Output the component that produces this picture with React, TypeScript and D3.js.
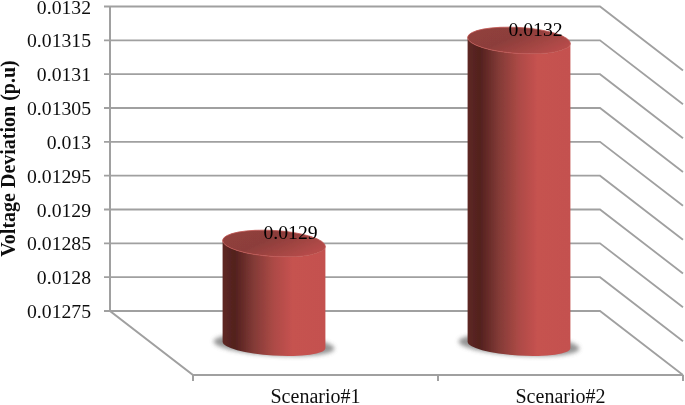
import React from "react";
import * as d3 from "d3";

const categories = ["Scenario#1", "Scenario#2"];
const seriesValues = [0.0129, 0.0132];
const valueLabels = ["0.0129", "0.0132"];
const tickValues = [0.01275, 0.0128, 0.01285, 0.0129, 0.01295, 0.013, 0.01305, 0.0131, 0.01315, 0.0132];
const tickLabels = ["0.01275", "0.0128", "0.01285", "0.0129", "0.01295", "0.013", "0.01305", "0.0131", "0.01315", "0.0132"];

const W = 685, H = 405;
const wallLeft = 110, wallRight = 600, wallBottom = 311, wallTop = 6.5;
const depthX = 83, depthY = 64;
const barRx = 51.5, capRy = 13, baseRy = 10.5, tilt = 3.5;
const tickFont = 19.7;
const grid = "#a0a0a0";
const serif = "'Liberation Serif', serif";

const y = d3.scaleLinear().domain([0.01275, 0.0132]).range([wallBottom, wallTop]);
const x = d3.scaleBand().domain(categories).range([wallLeft, wallRight]).padding(0);
const line = d3.line();

export default function App() {
  const bw = x.bandwidth();
  const ang = (tilt * Math.PI) / 180;
  const dxEnd = barRx * Math.cos(ang), dyEnd = barRx * Math.sin(ang);
  const floorY = wallBottom + depthY / 2 + 2;
  return (
    <svg width={W} height={H} style={{ position: "absolute", left: 0, top: 0, background: "#fff" }}>
      <defs>
        <linearGradient id="body" x1="0" x2="1" y1="0" y2="0">
          <stop offset="0" stopColor="#5e2823" />
          <stop offset="0.12" stopColor="#52201e" />
          <stop offset="0.3" stopColor="#823a36" />
          <stop offset="0.5" stopColor="#ad4a46" />
          <stop offset="0.68" stopColor="#c65250" />
          <stop offset="1" stopColor="#c45150" />
        </linearGradient>
        <linearGradient id="cap" x1="0" x2="1" y1="0" y2="0.5">
          <stop offset="0" stopColor="#93403c" />
          <stop offset="0.5" stopColor="#8c3e3b" />
          <stop offset="1" stopColor="#b54b49" />
        </linearGradient>
        <filter id="soft" x="-5%" y="-5%" width="110%" height="110%">
          <feGaussianBlur stdDeviation="0.45" />
        </filter>
        <filter id="shadow" x="-30%" y="-50%" width="160%" height="200%">
          <feGaussianBlur stdDeviation="2" />
        </filter>
      </defs>
      <g filter="url(#soft)">
        {tickValues.map((t) => {
          const py = y(t);
          return (
            <path
              key={t}
              d={line([[wallLeft - 6, py], [wallRight, py], [wallRight + depthX, py + depthY]]) as string}
              fill="none"
              stroke={grid}
              strokeWidth={1.8}
            />
          );
        })}
        <path
          d={line([[wallLeft, wallTop], [wallLeft, wallBottom], [wallLeft + depthX, wallBottom + depthY], [wallRight + depthX, wallBottom + depthY]]) as string}
          fill="none"
          stroke={grid}
          strokeWidth={2}
        />
        {[0, 1, 2].map((i) => {
          const px = wallLeft + depthX + i * bw;
          return <line key={i} x1={px} x2={px} y1={wallBottom + depthY} y2={wallBottom + depthY + 6} stroke={grid} strokeWidth={2} />;
        })}
        {categories.map((c, i) => {
          const cx = (x(c) as number) + bw / 2 + depthX / 2;
          const topY = y(seriesValues[i]) + depthY / 2 + 2;
          const body =
            `M${cx - dxEnd},${topY - dyEnd} L${cx - dxEnd},${floorY - dyEnd} ` +
            `A${barRx},${baseRy} ${tilt} 0 0 ${cx + dxEnd},${floorY + dyEnd} ` +
            `L${cx + dxEnd},${topY + dyEnd} ` +
            `A${barRx},${capRy} ${tilt} 0 1 ${cx - dxEnd},${topY - dyEnd} Z`;
          return (
            <g key={c}>
              <ellipse
                cx={cx}
                cy={floorY}
                rx={barRx + 9}
                ry={baseRy}
                transform={`rotate(${tilt} ${cx} ${floorY})`}
                fill="#6f6f6f"
                opacity={0.75}
                filter="url(#shadow)"
              />
              <path d={body} fill="url(#body)" />
              <ellipse
                cx={cx}
                cy={topY}
                rx={barRx}
                ry={capRy}
                transform={`rotate(${tilt} ${cx} ${topY})`}
                fill="url(#cap)"
                stroke="#bf5552"
                strokeWidth={0.8}
              />
            </g>
          );
        })}
        {tickValues.map((t, i) => (
          <text key={t} x={91} y={y(t) + 7} textAnchor="end" fontFamily={serif} fontSize={tickFont} fill="#111">
            {tickLabels[i]}
          </text>
        ))}
        {categories.map((c) => (
          <text
            key={c}
            x={(x(c) as number) + bw / 2 + depthX}
            y={403}
            textAnchor="middle"
            fontFamily={serif}
            fontSize={20}
            fill="#111"
          >
            {c}
          </text>
        ))}
        {categories.map((c, i) => (
          <text
            key={c}
            x={(x(c) as number) + bw / 2 + depthX / 2 + 16.5}
            y={y(seriesValues[i]) + 29.7}
            textAnchor="middle"
            fontFamily={serif}
            fontSize={tickFont}
            fill="#000"
          >
            {valueLabels[i]}
          </text>
        ))}
        <text
          transform="translate(15 158.5) rotate(-90)"
          textAnchor="middle"
          fontFamily={serif}
          fontWeight="bold"
          fontSize={20}
          fill="#111"
        >
          Voltage Deviation (p.u)
        </text>
      </g>
    </svg>
  );
}
